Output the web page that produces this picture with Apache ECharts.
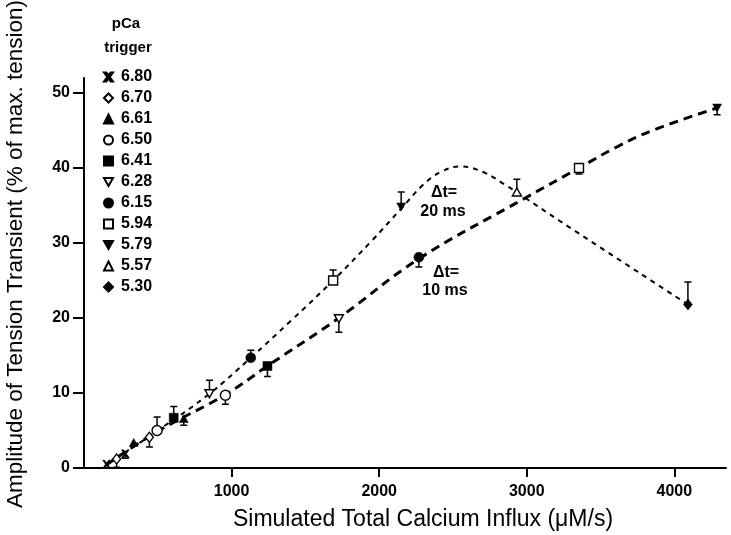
<!DOCTYPE html>
<html><head><meta charset="utf-8">
<script src="https://cdn.jsdelivr.net/npm/echarts@6/dist/echarts.min.js"></script>
<style>html,body{margin:0;padding:0;background:#fff}#c{width:731px;height:535px}</style>
</head><body><div id="c"></div>
<script>
// ---- data ----
const pcaLabels = ['6.80','6.70','6.61','6.50','6.41','6.28','6.15','5.94','5.79','5.57','5.30'];
const pointX   = [[153,280],[221,443],[337,676],[495,958],[608,1243],[850,1727],[1130,2269],[1688,3354],[2149,4290],[2933],[4092]];
const pointY   = [[0.5,1.9],[1.2,4.1],[3.4,6.6],[5.0,9.7],[6.7,13.6],[9.9,19.9],[14.7,28.1],[25.0,40.0],[34.8,48.0],[36.8],[21.8]];
const pointErr = [[null,1.3],[0.1,2.8],[null,5.7],[6.8,8.5],[8.2,12.2],[11.7,18.1],[15.7,26.8],[26.4,39.2],[36.8,47.1],[38.5],[24.8]];
const line10X = [150,500,960,1243,1727,2269,2990,3354,3600,3850,4290];
const line10Y = [0.4,4.9,9.8,13.6,20.0,27.9,36.0,40.0,42.7,45.0,48.0];
const line20X = [150,500,850,1130,1400,1688,1950,2150,2300,2420,2549,2700,2850,2990,3227,4092];
const line20Y = [0.4,5.0,9.9,14.7,19.6,25.0,30.3,34.6,37.8,39.5,40.2,39.5,37.8,36.0,32.9,21.8];
const yTicks = [0,10,20,30,40,50];
const xTicks = [1000,2000,3000,4000];
const xTitle = 'Simulated Total Calcium Influx (\u03bcM/s)';
const yTitle = 'Amplitude of Tension Transient (% of max. tension)';
const legendTitle = ['pCa','trigger'];
const note20 = ['\u0394t=','20 ms'];
const note10 = ['\u0394t=','10 ms'];

// ---- styling ----
const BOLD = "'Liberation Sans','Arimo',sans-serif";
const REG = "'Liberation Sans',sans-serif";
const PATH_CROSS = 'path://M0,0L2.6,0L5,3.2L7.4,0L10,0L6.4,5L10,10L7.4,10L5,6.8L2.6,10L0,10L3.6,5Z';
const PATH_DOWN = 'path://M0,0L10,0L5,9Z';
const symbolDefs = [
  {symbol: PATH_CROSS, size: 8, fill: '#000'},
  {symbol: 'diamond', size: [8,10], fill: '#fff'},
  {symbol: 'triangle', size: [9,8], fill: '#000'},
  {symbol: 'circle', size: 10, fill: '#fff'},
  {symbol: 'rect', size: 9, fill: '#000'},
  {symbol: PATH_DOWN, size: [9,8], fill: '#fff'},
  {symbol: 'circle', size: 10, fill: '#000'},
  {symbol: 'rect', size: 9, fill: '#fff'},
  {symbol: PATH_DOWN, size: [9,8], fill: '#000'},
  {symbol: 'triangle', size: [9,8], fill: '#fff'},
  {symbol: 'diamond', size: [9,11], fill: '#000'}
];

const series = [];
series.push({
  type: 'line', name: 'dt10', data: line10X.map((x,i)=>[x,line10Y[i]]),
  smooth: 0.4, showSymbol: false, silent: true, z: 1,
  lineStyle: {color: '#000', width: 3, type: [9,6]}
});
series.push({
  type: 'line', name: 'dt20', data: line20X.map((x,i)=>[x,line20Y[i]]),
  smooth: 0.4, showSymbol: false, silent: true, z: 1,
  lineStyle: {color: '#000', width: 2, type: [5,5]}
});
const errData = [];
pcaLabels.forEach((lab, k) => {
  pointX[k].forEach((x,i)=>{ if (pointErr[k][i] != null) errData.push([x, pointY[k][i], pointErr[k][i]]); });
  const d = symbolDefs[k];
  series.push({
    type: 'scatter', name: lab,
    data: pointX[k].map((x,i)=>[x, pointY[k][i]]),
    symbol: d.symbol, symbolSize: d.size, z: 3,
    itemStyle: {color: d.fill, borderColor: '#000', borderWidth: d.fill === '#fff' ? 1.4 : 0.5, opacity: 1}
  });
});
series.push({
  type: 'custom', name: 'err', data: errData, z: 2, silent: true,
  renderItem(params, api) {
    const p0 = api.coord([api.value(0), api.value(1)]);
    const p1 = api.coord([api.value(0), api.value(2)]);
    return {type: 'group', children: [
      {type: 'line', shape: {x1: p0[0], y1: p0[1], x2: p1[0], y2: p1[1]}, style: {stroke: '#000', lineWidth: 1.5}},
      {type: 'line', shape: {x1: p1[0]-3.5, y1: p1[1], x2: p1[0]+3.5, y2: p1[1]}, style: {stroke: '#000', lineWidth: 1.5}}
    ]};
  }
});

const tickFont = {color: '#000', fontFamily: BOLD, fontWeight: 'bold', fontSize: 16};
const chart = echarts.init(document.getElementById('c'), null, {renderer: 'canvas'});
chart.setOption({
  animation: false,
  backgroundColor: '#fff',
  grid: {left: 84, right: 5, top: 78, bottom: 67},
  xAxis: {
    type: 'value', min: 0, max: 4350,
    axisLine: {lineStyle: {color: '#000', width: 2}},
    axisTick: {show: true, customValues: xTicks, length: 9, lineStyle: {color: '#000', width: 2}},
    axisLabel: {customValues: xTicks, margin: 16, formatter: v => String(v), ...tickFont},
    splitLine: {show: false}
  },
  yAxis: {
    type: 'value', min: 0, max: 52,
    axisLine: {show: true, lineStyle: {color: '#000', width: 2}},
    axisTick: {show: true, customValues: yTicks, length: 11, lineStyle: {color: '#000', width: 2}},
    axisLabel: {customValues: yTicks, margin: 14, formatter: v => String(v), ...tickFont},
    splitLine: {show: false}
  },
  legend: {
    data: pcaLabels, orient: 'vertical', left: 103, top: 69, padding: 0,
    itemWidth: 9, itemHeight: 9, itemGap: 5,
    textStyle: {color: '#000', fontFamily: BOLD, fontWeight: 'bold', fontSize: 16, padding: [0,0,0,3]},
    selectedMode: false
  },
  graphic: [
    {type: 'text', x: 126, y: 24, style: {text: legendTitle[0], font: 'bold 15px ' + BOLD, fill: '#000', align: 'center', verticalAlign: 'middle'}},
    {type: 'text', x: 128, y: 48, style: {text: legendTitle[1], font: 'bold 15px ' + BOLD, fill: '#000', align: 'center', verticalAlign: 'middle'}},
    {type: 'text', x: 423, y: 520, style: {text: xTitle, font: '23px ' + REG, fill: '#000', align: 'center', verticalAlign: 'middle'}},
    {type: 'text', x: 16, y: 254, rotation: Math.PI/2, style: {text: yTitle, font: '22.5px ' + REG, fill: '#000', align: 'center', verticalAlign: 'middle'}},
    {type: 'text', x: 444, y: 193, style: {text: note20[0], font: 'bold 16px ' + BOLD, fill: '#000', align: 'center', verticalAlign: 'middle'}},
    {type: 'text', x: 443, y: 212, style: {text: note20[1], font: 'bold 16px ' + BOLD, fill: '#000', align: 'center', verticalAlign: 'middle'}},
    {type: 'text', x: 446, y: 273, style: {text: note10[0], font: 'bold 16px ' + BOLD, fill: '#000', align: 'center', verticalAlign: 'middle'}},
    {type: 'text', x: 445, y: 291, style: {text: note10[1], font: 'bold 16px ' + BOLD, fill: '#000', align: 'center', verticalAlign: 'middle'}}
  ],
  series: series
});
</script></body></html>
